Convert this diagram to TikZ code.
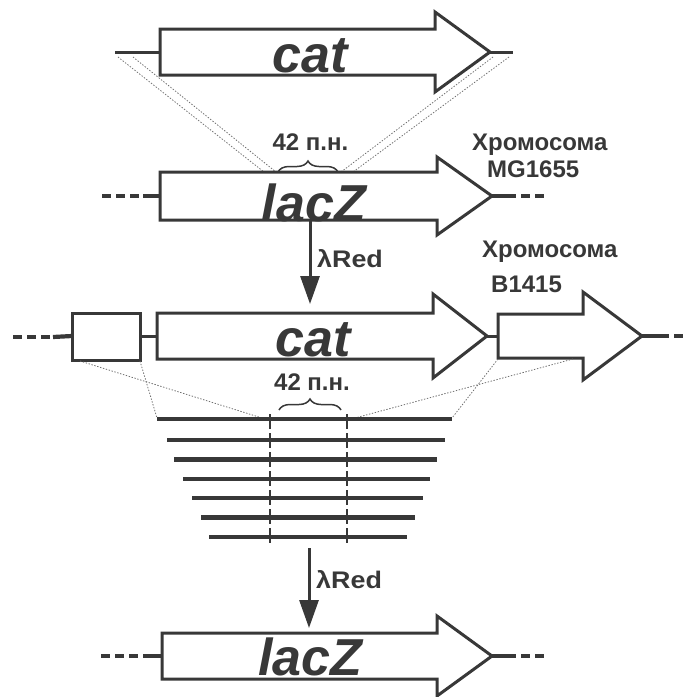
\documentclass[tikz,border=0pt]{standalone}
\usepackage{fontspec}
\setmainfont{Liberation Sans}
\usetikzlibrary{arrows.meta,decorations.pathreplacing}

\definecolor{inkc}{HTML}{383838}
\definecolor{dotc}{HTML}{707070}

\tikzset{
  genebox/.style={draw=inkc, line width=3pt, fill=white, line join=miter},
  thinlink/.style={draw=inkc, line width=3pt},
  dnaline/.style={draw=inkc, line width=4.2pt},
  dnadash/.style={draw=inkc, line width=4.2pt, dash pattern=on 9pt off 5pt},
  dotline/.style={draw=dotc, line width=0.8pt, dash pattern=on 1.4pt off 1.6pt},
  genelabel/.style={font=\fontsize{52}{52}\selectfont\bfseries\itshape, text=inkc, inner sep=0pt, anchor=base},
  lbl/.style={font=\fontsize{24}{24}\selectfont\bfseries, text=inkc, inner sep=0pt},
  redarrow/.style={draw=inkc, line width=3pt, -{Triangle[length=28pt,width=19pt]}},
  gapbrace/.style={draw=inkc, line width=1.5pt, decorate, decoration={brace, amplitude=11pt}},
  cutline/.style={draw=inkc, line width=2.5pt, dash pattern=on 15pt off 4pt, dash phase=-3pt},
}

% gene arrow: name, left x, head base x, tip x, centre y, body half-height, head half-height
\newcommand\genearrow[7]{%
  \draw[genebox] (#2,#5-#6) -- (#3,#5-#6) -- (#3,#5-#7) -- (#4,#5)
    -- (#3,#5+#7) -- (#3,#5+#6) -- (#2,#5+#6) -- cycle;
  \coordinate (#1 west) at (#2,#5);
  \coordinate (#1 tip) at (#4,#5);
}

\begin{document}
\begin{tikzpicture}[x=1pt, y=-1pt]
\useasboundingbox (0,0) rectangle (686,697);

% ---------- cat cassette ----------
\coordinate (catL) at (115,52);
\coordinate (catR) at (513,52);
\genearrow{cat1}{160}{435}{490}{52}{23}{40}
\draw[thinlink] (catL) -- (cat1 west);
\draw[thinlink] (cat1 tip) -- (catR);
\node[genelabel] (cattext1) at (310,72) {cat};

% homology arms of the cassette
\coordinate (a1) at (118,57);  \coordinate (a2) at (264,172);
\coordinate (b1) at (133,57);  \coordinate (b2) at (276,172);
\coordinate (c1) at (493,57);  \coordinate (c2) at (341,172);
\coordinate (d1) at (509,57);  \coordinate (d2) at (353,172);
\draw[dotline] (a1) -- (a2);
\draw[dotline] (b1) -- (b2);
\draw[dotline] (c1) -- (c2);
\draw[dotline] (d1) -- (d2);

% ---------- lacZ on MG1655 chromosome ----------
\genearrow{lacz1}{160}{437}{492}{196}{24}{39}
\coordinate (l1a) at (102,196); \coordinate (l1b) at (143,196);
\coordinate (r1a) at (507,196); \coordinate (r1b) at (546,196);
\draw[dnadash] (l1a) -- (l1b);
\draw[dnaline] (l1b) -- (lacz1 west);
\draw[dnaline] (lacz1 tip) -- (r1a);
\draw[dnadash] (r1a) -- (r1b);
\node[genelabel] (lacztext1) at (314,221) {lacZ};

\coordinate (br1a) at (278,172); \coordinate (br1b) at (338,172);
\draw[gapbrace] (br1a) -- (br1b);
\node[lbl, anchor=base] (gap1) at (310.5,150) {42 п.н.};

\node[lbl, anchor=base west] (chr1) at (472,150) {Хромосома};
\node[lbl, anchor=base west] (mg) at (487,177) {MG1655};

% ---------- first lambda Red step ----------
\coordinate (red1a) at (310,221);
\coordinate (red1b) at (310,304);
\draw[redarrow] (red1a) -- (red1b);
\node[lbl, anchor=base west] (redlbl1) at (317,267) {\scalebox{1.12}[1]{λRed}};

% ---------- B1415 chromosome ----------
\node[lbl, anchor=base west] (chr2) at (482,257) {Хромосома};
\node[lbl, anchor=base west] (b1415) at (491,292) {B1415};

\draw[genebox] (72,313) rectangle (140,360);
\coordinate (box west) at (72,336);
\coordinate (box east) at (140,336);
\coordinate (l2a) at (13,337); \coordinate (l2b) at (53,337);
\draw[dnadash] (l2a) -- (l2b);
\draw[dnaline] (l2b) -- (box west);

\genearrow{cat2}{157}{433}{487}{336}{23}{42}
\draw[thinlink] (box east) -- (cat2 west);
\node[genelabel] (cattext2) at (313,356) {cat};

\genearrow{next}{498}{583}{642}{336}{22}{44}
\draw[thinlink] (cat2 tip) -- (next west);
\coordinate (r2a) at (660,336); \coordinate (r2b) at (688,336);
\draw[dnaline] (next tip) -- (r2a);
\draw[dnadash] (r2a) -- (r2b);

% ---------- PCR fragments ----------
\coordinate (e1) at (80,361);  \coordinate (e2) at (262,418);
\coordinate (f1) at (140,361); \coordinate (f2) at (157,418);
\coordinate (g1) at (498,359); \coordinate (g2) at (452,418);
\coordinate (h1) at (573,359); \coordinate (h2) at (355,418);
\draw[dotline] (e1) -- (e2);
\draw[dotline] (f1) -- (f2);
\draw[dotline] (g1) -- (g2);
\draw[dotline] (h1) -- (h2);

\coordinate (br2a) at (279,410); \coordinate (br2b) at (341,410);
\draw[gapbrace] (br2a) -- (br2b);
\node[lbl, anchor=base] (gap2) at (312,390) {42 п.н.};

\foreach \y/\xl/\xr [count=\i] in
  {419/157/452, 440/167/445, 459.5/174/437, 479/183/430,
   498/192/423, 517.5/201/415, 537/209/407}{
  \coordinate (s\i l) at (\xl,\y);
  \coordinate (s\i r) at (\xr,\y);
  \draw[dnaline] (s\i l) -- (s\i r);
}
\coordinate (cutAtop) at (270,411); \coordinate (cutAbot) at (270,546);
\coordinate (cutBtop) at (347,411); \coordinate (cutBbot) at (347,546);
\draw[cutline] (cutAtop) -- (cutAbot);
\draw[cutline] (cutBtop) -- (cutBbot);

% ---------- second lambda Red step ----------
\coordinate (red2a) at (309,548);
\coordinate (red2b) at (309,628);
\draw[redarrow] (red2a) -- (red2b);
\node[lbl, anchor=base west] (redlbl2) at (316,588) {\scalebox{1.12}[1]{λRed}};

% ---------- restored lacZ ----------
\genearrow{lacz3}{162}{437}{492}{656}{23}{40}
\coordinate (l3a) at (101,656); \coordinate (l3b) at (145,656);
\coordinate (r3a) at (507,656); \coordinate (r3b) at (545,656);
\draw[dnadash] (l3a) -- (l3b);
\draw[dnaline] (l3b) -- (lacz3 west);
\draw[dnaline] (lacz3 tip) -- (r3a);
\draw[dnadash] (r3a) -- (r3b);
\node[genelabel] (lacztext3) at (310.5,675) {lacZ};
\end{tikzpicture}
\end{document}
